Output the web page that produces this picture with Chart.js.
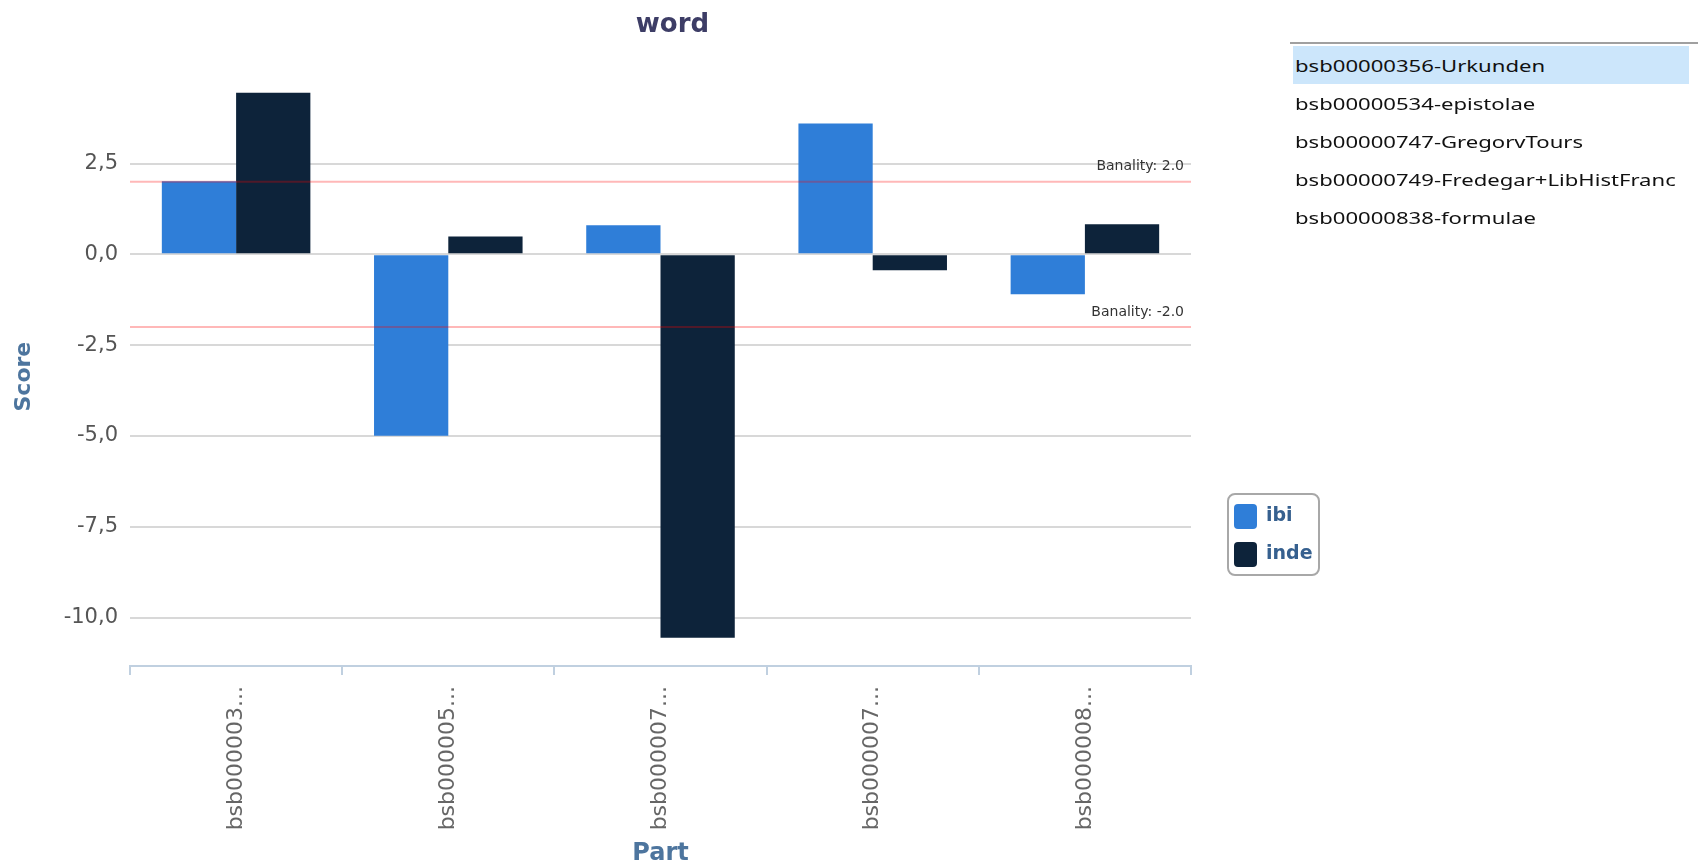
<!DOCTYPE html>
<html>
<head>
<meta charset="utf-8">
<title>word</title>
<script src="https://cdn.jsdelivr.net/npm/chart.js@4/dist/chart.umd.min.js"></script>
<style>
  html, body { margin: 0; padding: 0; background: #ffffff; }
  body { width: 1700px; height: 868px; position: relative; overflow: hidden; }
  #grafico-caja { position: absolute; left: 0; top: 0; width: 1345px; height: 868px; }
  #leyenda {
    position: absolute; left: 1227px; top: 493px; width: 89px; height: 79px;
    border: 2px solid #a8a8a8; border-radius: 8px; box-sizing: content-box;
    font-family: "DejaVu Sans", sans-serif; font-weight: bold; font-size: 19px; color: #36608f;
  }
  .item { position: absolute; left: 5px; height: 25px; line-height: 25px; white-space: nowrap; }
  .item span.cuadro { position: absolute; left: 0; top: 0; width: 23px; height: 25px; border-radius: 4px; }
  .item span.texto { position: absolute; left: 32px; top: -2px; }
  #lista { position: absolute; left: 1290px; top: 42px; width: 408px; border-top: 2px solid #a0a0a0; }
  .fila {
    position: relative; height: 38px; margin-left: 3px; width: 396px;
    font-family: "Noto Sans", sans-serif; font-size: 17px; color: #111;
  }
  .fila.sel { background: #cce6fb; }
  .fila span { position: absolute; left: 2px; top: 8px; transform: scaleX(1.3); transform-origin: 0 0; white-space: nowrap; }
  .fila:first-child { margin-top: 2px; }
</style>
</head>
<body>
<div id="grafico-caja"><canvas id="miGrafico"></canvas></div>
<div id="leyenda"></div>
<div id="lista"></div>
<script>
// datos del grafico
var partes = ['bsb00000356-Urkunden', 'bsb00000534-epistolae', 'bsb00000747-GregorvTours',
  'bsb00000749-Fredegar+LibHistFranc', 'bsb00000838-formulae'];
var ibi = [2.01, -4.99, 0.80, 3.60, -1.10];
var inde = [4.45, 0.49, -10.55, -0.44, 0.83];
var banalidad = [2.0, -2.0];
var ejeMin = -11.33;
var ejeMax = 4.6;
var paso = 2.5;

Chart.defaults.font.family = '"DejaVu Sans", sans-serif';

// lineas de banalidad
var lineasBanalidad = {
  id: 'lineasBanalidad',
  afterDatasetsDraw: function (chart) {
    var ctx = chart.ctx;
    var area = chart.chartArea;
    var y = chart.scales.y;
    ctx.save();
    for (var i = 0; i < banalidad.length; i++) {
      var py = y.getPixelForValue(banalidad[i]);
      ctx.strokeStyle = 'rgba(255,0,0,0.28)';
      ctx.lineWidth = 2;
      ctx.beginPath();
      ctx.moveTo(area.left, py);
      ctx.lineTo(area.right, py);
      ctx.stroke();
      ctx.fillStyle = '#333333';
      ctx.font = '14px "DejaVu Sans", sans-serif';
      ctx.textAlign = 'right';
      ctx.textBaseline = 'middle';
      ctx.fillText('Banality: ' + banalidad[i].toFixed(1), area.right - 7, py - 15);
    }
    ctx.restore();
  }
};

var datos = {
  labels: partes,
  datasets: [
    { label: 'ibi', data: ibi, backgroundColor: '#2f7ed8', categoryPercentage: 0.7, barPercentage: 1.0 },
    { label: 'inde', data: inde, backgroundColor: '#0d233a', categoryPercentage: 0.7, barPercentage: 1.0 }
  ]
};

var opciones = {
  responsive: true,
  maintainAspectRatio: false,
  animation: false,
  layout: { padding: 0 },
  plugins: {
    legend: { display: false },
    tooltip: { enabled: false },
    title: {
      display: true,
      text: 'word',
      color: '#3d3d66',
      font: { size: 26, weight: 'bold' },
      padding: { top: 10, bottom: 46 }
    }
  },
  scales: {
    x: {
      grid: { drawOnChartArea: false, drawTicks: true, tickLength: 9, color: '#c0d0e0', lineWidth: 2 },
      border: { display: true, color: '#c0d0e0', width: 2 },
      ticks: {
        autoSkip: false, minRotation: 90, maxRotation: 90, padding: 11,
        color: '#666666', font: { size: 22 },
        callback: function (v) { return partes[v].slice(0, 9) + '...'; }
      },
      title: { display: true, text: 'Part', color: '#4d759e', font: { size: 24, weight: 'bold' }, padding: { top: 0, bottom: 0 } },
      afterFit: function (s) { s.height = 202; }
    },
    y: {
      min: ejeMin,
      max: ejeMax,
      grid: { drawTicks: false, color: '#d8d8d8', lineWidth: 2 },
      border: { display: false },
      ticks: {
        stepSize: paso, padding: 12, color: '#555555', font: { size: 21 },
        callback: function (v) { return v.toFixed(1).replace('.', ','); }
      },
      afterBuildTicks: function (s) {
        s.ticks = s.ticks.filter(function (t) {
          return Math.abs(t.value / paso - Math.round(t.value / paso)) < 1e-6;
        });
      },
      title: { display: true, text: 'Score', color: '#4d759e', font: { size: 22, weight: 'bold' }, padding: { top: 11, bottom: 0 } },
      afterFit: function (s) { s.width = 130; }
    },
    derecha: {
      type: 'linear',
      position: 'right',
      grid: { display: false },
      border: { display: false },
      ticks: { display: false },
      afterFit: function (s) { s.width = 154; }
    }
  }
};

var canvas = document.getElementById('miGrafico');
var grafico = new Chart(canvas, {
  type: 'bar',
  data: datos,
  options: opciones,
  plugins: [lineasBanalidad]
});

// leyenda
var leyenda = document.getElementById('leyenda');
grafico.data.datasets.forEach(function (ds, i) {
  var item = document.createElement('div');
  item.className = 'item';
  item.style.top = (9 + i * 37.5) + 'px';
  item.innerHTML = '<span class="cuadro" style="background:' + ds.backgroundColor + '"></span><span class="texto">' + ds.label + '</span>';
  leyenda.appendChild(item);
});

// lista de partes
var lista = document.getElementById('lista');
partes.forEach(function (p, i) {
  var fila = document.createElement('div');
  fila.className = i === 0 ? 'fila sel' : 'fila';
  var s = document.createElement('span');
  s.textContent = p;
  fila.appendChild(s);
  lista.appendChild(fila);
});
</script>
</body>
</html>
